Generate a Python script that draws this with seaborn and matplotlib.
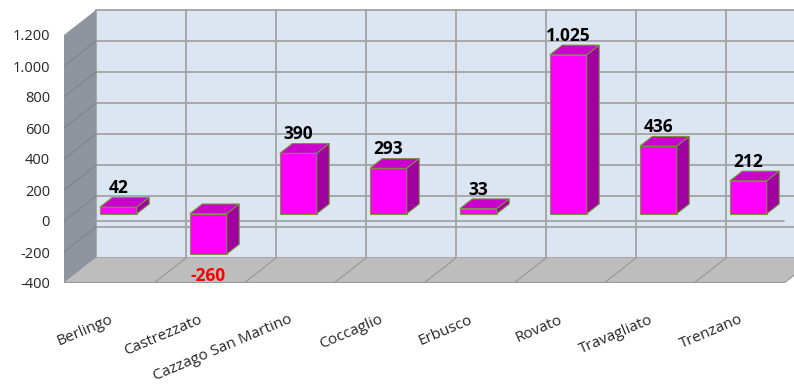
import matplotlib
matplotlib.use("Agg")
import matplotlib.pyplot as plt
from matplotlib.patches import Polygon, Rectangle
from matplotlib.transforms import Affine2D
import seaborn as sns

# Saldo per comune
comuni = ["Berlingo", "Castrezzato", "Cazzago San Martino", "Coccaglio",
          "Erbusco", "Rovato", "Travagliato", "Trenzano"]
saldo = [42, -260, 390, 293, 33, 1025, 436, 212]

y_ticks = [-400, -200, 0, 200, 400, 600, 800, 1000, 1200]
y_tick_labels = ["-400", "-200", "0", "200", "400", "600", "800", "1.000", "1.200"]

sns.set_style("white")
plt.rcParams["font.family"] = ["Open Sans", "DejaVu Sans"]

W, H = 794, 389
fig = plt.figure(figsize=(W / 100, H / 100), dpi=100)

# front plane of the box: 90 px per category, 0.155 px per unit
px_cat, px_val = 90.0, 0.155
left_px, bottom_px = 64, 283
ax = fig.add_axes([left_px / W, (H - bottom_px) / H, (W - left_px) / W, bottom_px / H])
xmin, xmax = -0.5, -0.5 + (W - left_px) / px_cat
ymin, ymax = y_ticks[0], y_ticks[0] + bottom_px / px_val

# depth of the box (32 px right, 25 px up)
ddx, ddy = 32 / px_cat, 25 / px_val
n = len(comuni)
x0, x1 = -0.5, n - 0.5
v0, v1 = y_ticks[0], y_ticks[-1]

grid_col = "#A3A3A3"
wall_col = "#DCE6F2"
side_col = "#8E959E"
floor_col = "#BDBDBD"

# back wall
ax.add_patch(Rectangle((x0 + ddx, v0 + ddy), n, v1 - v0, facecolor=wall_col,
                       edgecolor="none", zorder=0))
for v in y_ticks:
    ax.plot([x0 + ddx, x1 + ddx], [v + ddy, v + ddy], color=grid_col, lw=1.3, zorder=1)
for i in range(n + 1):
    b = i - 0.5
    ax.plot([b + ddx, b + ddx], [v0 + ddy, v1 + ddy], color=grid_col, lw=1.3, zorder=1)

# left side wall
ax.add_patch(Polygon([(x0, v0), (x0, v1), (x0 + ddx, v1 + ddy), (x0 + ddx, v0 + ddy)],
                     closed=True, facecolor=side_col, edgecolor="none", zorder=1))
for v in y_ticks[1:-1]:
    ax.plot([x0, x0 + ddx], [v, v + ddy], color="#7E858E", lw=0.9, zorder=1.5)

# floor
ax.add_patch(Polygon([(x0, v0), (x1, v0), (x1 + ddx, v0 + ddy), (x0 + ddx, v0 + ddy)],
                     closed=True, facecolor=floor_col, edgecolor="none", zorder=1))
for i in range(1, n + 1):
    b = i - 0.5
    ax.plot([b, b + ddx], [v0, v0 + ddy], color="#9A9A9A", lw=0.9, zorder=1.5)
ax.plot([x0, x1], [v0, v0], color="#9A9A9A", lw=1.6, zorder=1.6)

# zero line
ax.plot([x0 + ddx, x1], [0, 0], color=grid_col, lw=1.3, zorder=1.7)

# bars
n_before = len(ax.patches)
sns.barplot(x=comuni, y=saldo, color="#FF00FF", saturation=1, width=0.41,
            edgecolor="#77933C", linewidth=0.8, ax=ax, zorder=3)
bars = ax.patches[n_before:]

f_front, f_depth = 0.29, 0.39
ox, oy = f_front * ddx, f_front * ddy
bx, by = f_depth * ddx, f_depth * ddy
shift = Affine2D().translate(ox, oy) + ax.transData

for bar, val in zip(bars, saldo):
    bar.set_transform(shift)
    bl = bar.get_x() + ox
    br = bl + bar.get_width()
    top = max(bar.get_y(), bar.get_y() + bar.get_height()) + oy
    bot = min(bar.get_y(), bar.get_y() + bar.get_height()) + oy
    ax.add_patch(Polygon([(bl, top), (br, top), (br + bx, top + by), (bl + bx, top + by)],
                         closed=True, facecolor="#CC00CC", edgecolor="#77933C",
                         lw=0.8, zorder=3))
    ax.add_patch(Polygon([(br, bot), (br, top), (br + bx, top + by), (br + bx, bot + by)],
                         closed=True, facecolor="#A000A0", edgecolor="#77933C",
                         lw=0.8, zorder=3))
    label = f"{val:,}".replace(",", ".")
    cx = (bl + br) / 2
    if val >= 0:
        ax.annotate(label, (cx, top + by), xytext=(0, 3), textcoords="offset points",
                    ha="center", va="baseline", fontsize=12.5, fontweight="bold",
                    color="black", zorder=5)
    else:
        ax.annotate(label, (cx, bot), xytext=(0, -19.5), textcoords="offset points",
                    ha="center", va="baseline", fontsize=12.5, fontweight="bold",
                    color="#FF0000", zorder=5)

ax.set_xlim(xmin, xmax)
ax.set_ylim(ymin, ymax)
ax.set_yticks(y_ticks)
ax.set_yticklabels(y_tick_labels, fontsize=10.5)
ax.set_xticks(range(n))
ax.set_xticklabels(comuni, fontsize=11, rotation=23, ha="right",
                   rotation_mode="anchor")
ax.tick_params(axis="y", length=0, pad=10)
ax.tick_params(axis="x", length=0, pad=21)
ax.set_xlabel("")
ax.set_ylabel("")
for s in ax.spines.values():
    s.set_visible(False)
ax.set_facecolor("none")

fig.savefig("out.png", dpi=100)
